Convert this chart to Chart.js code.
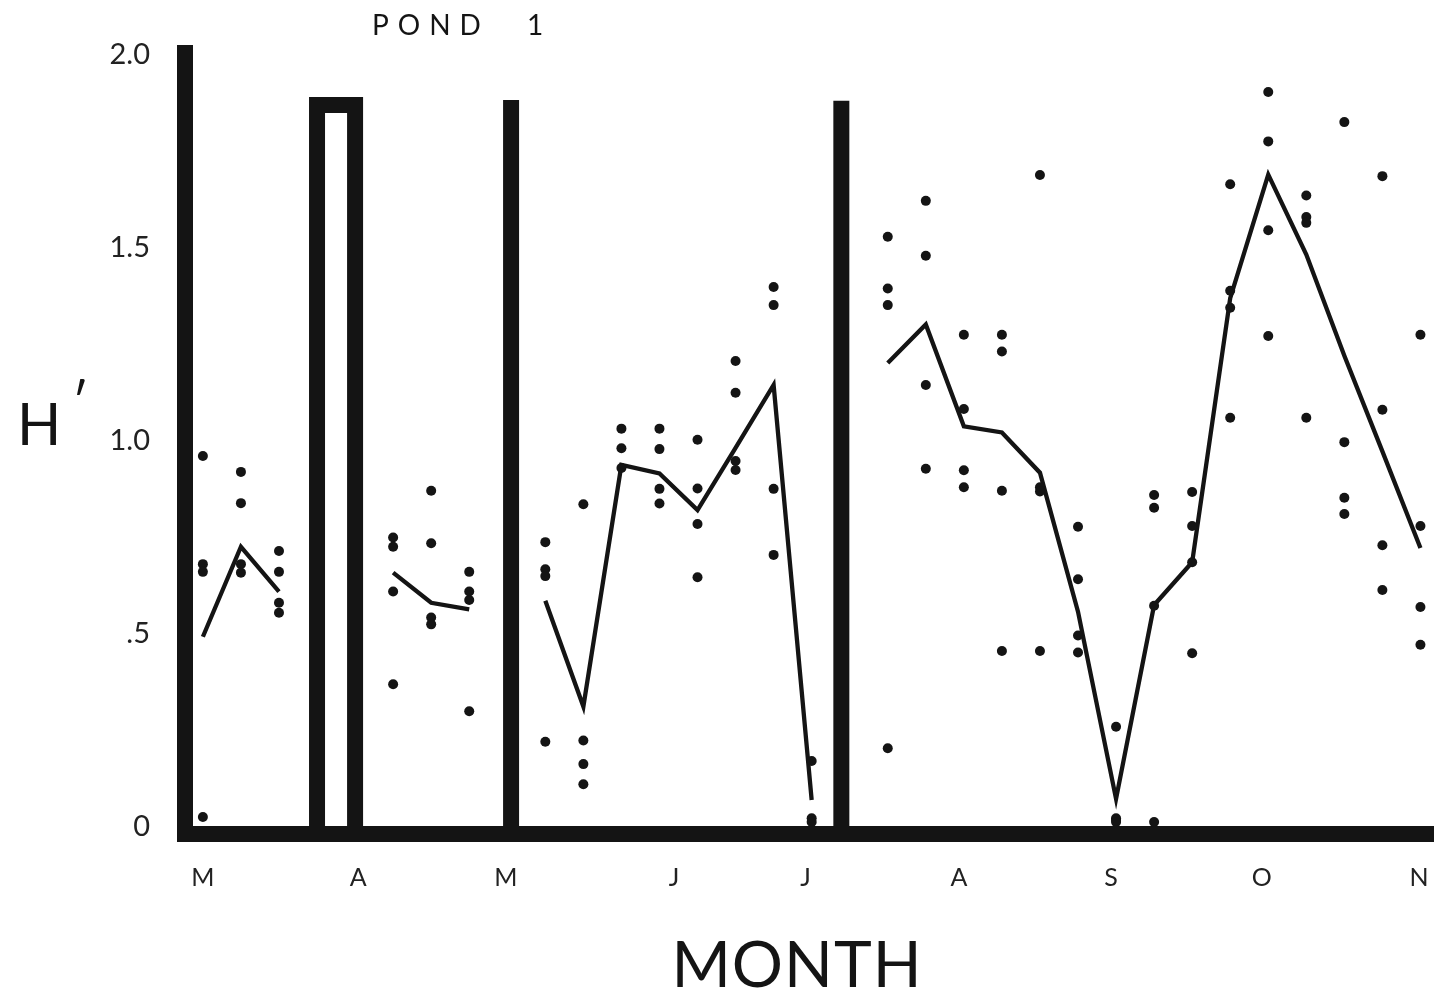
<!DOCTYPE html>
<html>
<head>
<meta charset="utf-8">
<script src="https://cdn.jsdelivr.net/npm/chart.js@4.4.0/dist/chart.umd.min.js"></script>
<style>
  html, body { margin: 0; padding: 0; background: #fff; }
  canvas { display: block; }
</style>
</head>
<body>
<canvas id="c" width="1438" height="996"></canvas>
<script>
// Sampling week (0 = first sample in March) and diversity H' of each replicate.
const sampleWeeks = [0, 1, 2, 3, 4, 5, 6, 7, 8, 9, 10, 11, 12, 13, 14, 15, 16,
                     17, 18, 19, 20, 21, 22, 23, 24, 25, 26, 27, 28, 29, 30, 31, 32];

const replicateH = [
  [0.961, 0.681, 0.661, 0.026],
  [0.920, 0.839, 0.681, 0.659],
  [0.715, 0.661, 0.581, 0.555],
  null,
  null,
  [0.750, 0.726, 0.610, 0.370],
  [0.871, 0.735, 0.543, 0.525],
  [0.661, 0.610, 0.588, 0.300],
  null,
  [0.738, 0.668, 0.650, 0.221],
  [0.836, 0.224, 0.163, 0.111],
  [1.032, 0.981, 0.930],
  [1.032, 0.979, 0.876, 0.838],
  [1.003, 0.877, 0.785, 0.647],
  [1.207, 1.125, 0.948, 0.925],
  [1.399, 1.352, 0.876, 0.705],
  [0.171, 0.023, 0.013],
  null,
  [1.529, 1.395, 1.352, 0.204],
  [1.622, 1.480, 1.145, 0.928],
  [1.275, 1.083, 0.924, 0.880],
  [1.275, 1.232, 0.871, 0.456],
  [1.689, 0.880, 0.869, 0.456],
  [0.778, 0.642, 0.496, 0.452],
  [0.260, 0.023, 0.018, 0.013],
  [0.860, 0.827, 0.573, 0.013],
  [0.868, 0.780, 0.686, 0.450],
  [1.665, 1.389, 1.345, 1.060],
  [1.904, 1.776, 1.546, 1.272],
  [1.636, 1.580, 1.565, 1.060],
  [1.826, 0.997, 0.853, 0.811],
  [1.686, 1.081, 0.730, 0.614],
  [1.275, 0.780, 0.570, 0.472]
];

// Mean H' per sampling week (null where no sample was taken).
const meanH = [0.493, 0.726, 0.610, null, null, 0.659, 0.581, 0.564, null,
               0.586, 0.312, 0.938, 0.916, 0.821, 0.982, 1.145, 0.070, null,
               1.202, 1.302, 1.038, 1.022, 0.918, 0.558, 0.073, 0.575, 0.686,
               1.370, 1.690, 1.483, 1.221, 0.973, 0.723];

// Heavy vertical markers between sampling periods.
const markerWeeks = [8.1, 16.78];
const markerTops = [1.883, 1.881];
const openMarkerWeeks = [3, 4];
const openMarkerTop = 1.87;

// Axis labelling.
const monthLabels = ['M', 'A', 'M', 'J', 'J', 'A', 'S', 'O', 'N'];
const monthWeeks = [0, 4.08, 7.96, 12.38, 15.84, 19.87, 23.87, 27.83, 31.96];
const yTickValues = [0, 0.5, 1.0, 1.5, 2.0];
const yTickLabels = ['0', '.5', '1.0', '1.5', '2.0'];

const titleText = 'POND 1';
const yTitle = 'H\u2032';
const xTitle = 'MONTH';

const INK = '#141414';
const FONT = 'Lato, "DejaVu Sans", sans-serif';

const replicatePoints = [];
sampleWeeks.forEach((w, i) => {
  (replicateH[i] || []).forEach(v => replicatePoints.push({ x: w, y: v }));
});
const meanPoints = sampleWeeks.map((w, i) => ({ x: w, y: meanH[i] }));

const markerSets = markerWeeks.map((w, i) => ({
  type: 'line',
  data: [{ x: w, y: 0 }, { x: w, y: markerTops[i] }],
  borderColor: INK,
  borderWidth: 16,
  borderCapStyle: 'butt',
  pointRadius: 0,
  fill: false
}));

const openMarker = {
  type: 'line',
  data: [
    { x: openMarkerWeeks[0], y: 0 },
    { x: openMarkerWeeks[0], y: openMarkerTop },
    { x: openMarkerWeeks[1], y: openMarkerTop },
    { x: openMarkerWeeks[1], y: 0 }
  ],
  borderColor: INK,
  borderWidth: 16,
  borderJoinStyle: 'miter',
  borderCapStyle: 'butt',
  pointRadius: 0,
  fill: false
};

// Free-standing labels: figure heading, the horizontal H' axis name and MONTH.
const labelPlugin = {
  id: 'figureLabels',
  afterDraw(chart) {
    const ctx = chart.ctx;
    ctx.save();
    ctx.fillStyle = INK;
    ctx.textBaseline = 'alphabetic';
    ctx.textAlign = 'left';

    ctx.font = '400 28px ' + FONT;
    ctx.letterSpacing = '9px';
    const words = titleText.split(' ');
    ctx.fillText(words[0], 372, 35);
    ctx.fillText(words[1], 527, 35);

    ctx.letterSpacing = '0px';
    ctx.font = '400 58px ' + FONT;
    ctx.fillText(yTitle.charAt(0), 17, 445);
    ctx.font = '400 50px ' + FONT;
    ctx.fillText(yTitle.charAt(1), 72, 420);

    ctx.font = '400 64px ' + FONT;
    ctx.letterSpacing = '1px';
    ctx.textAlign = 'center';
    ctx.fillText(xTitle, 797, 987);
    ctx.restore();
  }
};

new Chart(document.getElementById('c'), {
  type: 'scatter',
  data: {
    datasets: [
      {
        type: 'scatter',
        data: replicatePoints,
        backgroundColor: INK,
        borderWidth: 0,
        pointRadius: 5,
        pointHoverRadius: 5
      },
      {
        type: 'line',
        data: meanPoints,
        borderColor: INK,
        borderWidth: 4.3,
        pointRadius: 0,
        spanGaps: false,
        tension: 0,
        fill: false
      },
      ...markerSets,
      openMarker
    ]
  },
  options: {
    responsive: false,
    animation: false,
    devicePixelRatio: 1,
    layout: { padding: { top: 53, left: 0, right: 0, bottom: 0 } },
    plugins: { legend: { display: false }, tooltip: { enabled: false }, title: { display: false } },
    scales: {
      x: {
        type: 'linear',
        min: -0.47,
        max: 32.33,
        grid: { display: false, drawTicks: false },
        border: { display: true, width: 16, color: INK },
        afterBuildTicks(scale) { scale.ticks = monthWeeks.map(v => ({ value: v })); },
        afterFit(scale) {
          scale.height = 162;
          scale.paddingLeft = 0; scale.paddingRight = 0;
        },
        ticks: {
          autoSkip: false,
          maxRotation: 0,
          padding: 29,
          color: '#222',
          font: { family: FONT, size: 25, weight: 400 },
          callback: (v, i) => monthLabels[i]
        }
      },
      y: {
        type: 'linear',
        min: -0.018,
        max: 2.005,
        grid: { display: false, drawTicks: false },
        border: { display: true, width: 16, color: INK },
        afterBuildTicks(scale) { scale.ticks = yTickValues.map(v => ({ value: v })); },
        afterFit(scale) {
          scale.width = 185;
          scale.paddingTop = 0; scale.paddingBottom = 0;
        },
        ticks: {
          padding: 35,
          color: '#222',
          font: { family: FONT, size: 29, weight: 400 },
          callback: (v, i) => yTickLabels[i]
        }
      }
    }
  },
  plugins: [labelPlugin]
});
</script>
</body>
</html>
